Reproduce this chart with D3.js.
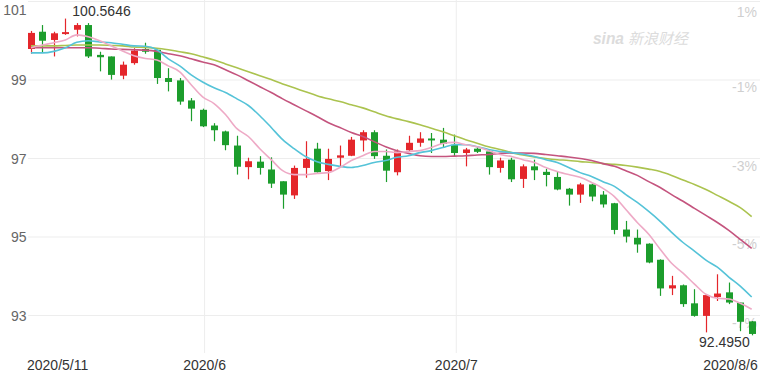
<!DOCTYPE html>
<html>
<head>
<meta charset="utf-8">
<script src="https://cdn.jsdelivr.net/npm/d3@7"></script>
<style>
  body { margin: 0; background: #fff; }
  svg { display: block; font-family: "Liberation Sans", Arial, sans-serif; }
</style>
</head>
<body>
<svg id="chart" width="760" height="372"></svg>
<script>
// trading days
const dates = [
  "2020-05-11","2020-05-12","2020-05-13","2020-05-14","2020-05-15",
  "2020-05-18","2020-05-19","2020-05-20","2020-05-21","2020-05-22",
  "2020-05-25","2020-05-26","2020-05-27","2020-05-28","2020-05-29",
  "2020-06-01","2020-06-02","2020-06-03","2020-06-04","2020-06-05",
  "2020-06-08","2020-06-09","2020-06-10","2020-06-11","2020-06-12",
  "2020-06-15","2020-06-16","2020-06-17","2020-06-18","2020-06-19",
  "2020-06-22","2020-06-23","2020-06-24","2020-06-25","2020-06-26",
  "2020-06-29","2020-06-30",
  "2020-07-01","2020-07-02","2020-07-03",
  "2020-07-06","2020-07-07","2020-07-08","2020-07-09","2020-07-10",
  "2020-07-13","2020-07-14","2020-07-15","2020-07-16","2020-07-17",
  "2020-07-20","2020-07-21","2020-07-22","2020-07-23","2020-07-24",
  "2020-07-27","2020-07-28","2020-07-29","2020-07-30","2020-07-31",
  "2020-08-03","2020-08-04","2020-08-05","2020-08-06"
];

const openVals = [99.79,100.23,100.02,100.17,100.28,100.40,99.64,99.60,99.11,99.43,
  99.79,99.77,99.05,98.99,98.48,98.24,97.84,97.69,97.33,96.78,
  96.92,96.72,96.42,96.06,96.76,97.25,96.68,97.02,97.07,97.46,
  97.67,97.07,96.65,97.21,97.40,97.51,97.48,97.35,97.14,97.25,
  97.18,96.76,96.97,96.48,96.80,96.66,96.53,96.23,96.08,96.34,
  96.08,95.86,95.19,94.98,94.83,94.42,93.69,93.77,93.31,92.99,
  93.47,93.59,93.33,92.85];
const closeVals = [100.20,100.00,100.19,100.22,100.40,99.60,99.58,99.13,99.39,99.75,
  99.72,99.05,98.95,98.45,98.27,97.82,97.72,97.34,96.79,96.93,
  96.76,96.36,96.08,96.76,96.99,96.65,96.99,97.08,97.48,97.67,
  97.06,96.69,97.18,97.40,97.51,97.46,97.37,97.14,97.23,97.17,
  96.78,96.95,96.47,96.80,96.70,96.58,96.21,96.08,96.34,96.03,
  95.83,95.18,95.01,94.81,94.35,93.69,93.77,93.29,92.99,93.52,
  93.56,93.33,92.84,92.53];
const highVals = [100.25,100.40,100.23,100.5646,100.45,100.45,99.72,99.60,99.47,99.81,
  99.95,99.77,99.30,99.05,98.54,98.27,97.90,97.71,97.58,97.02,
  97.06,97.03,96.42,96.82,97.44,97.40,97.25,97.33,97.55,97.72,
  97.72,97.23,97.23,97.58,97.67,97.65,97.78,97.61,97.27,97.31,
  97.23,97.02,97.02,96.85,96.97,96.74,96.68,96.25,96.38,96.36,
  96.17,95.87,95.41,95.19,94.84,94.43,94.01,93.79,93.67,93.54,
  94.05,93.84,93.33,92.86];
const lowVals = [99.67,99.69,99.60,100.15,100.11,99.56,99.22,99.01,99.02,99.39,
  99.67,98.90,98.71,98.37,97.95,97.80,97.44,97.21,96.59,96.47,
  96.59,96.25,95.72,95.97,96.51,96.64,96.45,96.80,97.06,97.18,
  96.99,96.40,96.57,97.17,97.30,97.14,97.27,97.04,96.80,97.14,
  96.59,96.64,96.40,96.25,96.45,96.29,96.19,95.80,95.87,95.91,
  95.75,95.07,94.86,94.60,94.33,93.50,93.52,93.22,92.97,92.57,
  93.37,93.29,92.60,92.495];

// moving averages
const ma5 = [99.82,99.89,99.95,100.02,100.15,100.10,100.00,99.87,99.74,99.62,
  99.55,99.51,99.36,99.21,98.88,98.57,98.40,98.12,97.76,97.56,
  97.25,96.97,96.69,96.59,96.59,96.62,96.64,96.77,96.95,97.07,
  97.18,97.18,97.15,97.18,97.20,97.28,97.38,97.41,97.35,97.30,
  97.20,97.10,97.05,96.97,96.90,96.77,96.67,96.59,96.52,96.39,
  96.24,96.03,95.70,95.37,95.07,94.69,94.33,94.08,93.80,93.54,
  93.44,93.42,93.31,93.16];
const ma10 = [99.69,99.69,99.73,99.82,99.96,100.00,99.97,99.95,99.91,99.87,
  99.86,99.77,99.54,99.36,99.13,98.95,98.80,98.68,98.52,98.35,
  98.09,97.79,97.48,97.25,97.05,96.92,96.85,96.80,96.77,96.82,
  96.90,96.95,97.03,97.07,97.15,97.20,97.28,97.35,97.35,97.30,
  97.23,97.18,97.15,97.11,97.05,96.97,96.90,96.77,96.64,96.54,
  96.41,96.29,96.08,95.88,95.65,95.40,95.12,94.86,94.64,94.41,
  94.23,93.98,93.75,93.47];
const ma20 = [99.82,99.82,99.82,99.82,99.82,99.82,99.81,99.79,99.78,99.77,
  99.76,99.73,99.67,99.62,99.54,99.46,99.39,99.26,99.13,98.98,
  98.83,98.68,98.52,98.37,98.22,98.07,97.91,97.79,97.66,97.56,
  97.43,97.30,97.20,97.13,97.07,97.05,97.05,97.06,97.07,97.09,
  97.10,97.13,97.14,97.14,97.13,97.10,97.07,97.04,97.00,96.95,
  96.87,96.80,96.69,96.57,96.41,96.26,96.08,95.91,95.73,95.55,
  95.37,95.17,94.94,94.71];
const ma30 = [99.87,99.87,99.87,99.88,99.89,99.89,99.89,99.88,99.87,99.84,
  99.83,99.81,99.77,99.72,99.67,99.59,99.51,99.41,99.31,99.21,
  99.11,99.01,98.90,98.80,98.70,98.60,98.52,98.45,98.37,98.29,
  98.19,98.09,98.01,97.94,97.86,97.77,97.68,97.58,97.48,97.39,
  97.30,97.23,97.15,97.09,97.04,97.00,96.97,96.95,96.92,96.90,
  96.87,96.85,96.82,96.78,96.73,96.67,96.57,96.45,96.34,96.21,
  96.06,95.91,95.75,95.52];

const yTicks = [101, 99, 97, 95, 93];
const pctLabels = ["1%", "-1%", "-3%", "-5%", "-7%"];
const xTickDates = ["2020-05-11", "2020-06-01", "2020-07-01", "2020-08-06"];
const xTickLabels = ["2020/5/11", "2020/6", "2020/7", "2020/8/6"];

const svg = d3.select("#chart");
const width = 760;

var x = d3.scaleBand().domain(dates).range([25.3, 757.4]);
var y = d3.scaleLinear().domain([93, 101]).range([315.5, 1.5]);
const cx = d => x(d) + x.bandwidth() / 2;

// grid
svg.append("g").selectAll("line")
  .data(yTicks).enter().append("line")
  .attr("x1", 28).attr("x2", width)
  .attr("y1", d => y(d)).attr("y2", d => y(d))
  .attr("stroke", "#ededed").attr("stroke-width", 1);

svg.append("g").selectAll("line")
  .data(xTickDates.slice(1, 3)).enter().append("line")
  .attr("x1", d => cx(d) + 2).attr("x2", d => cx(d) + 2)
  .attr("y1", 0).attr("y2", 353)
  .attr("stroke", "#ededed").attr("stroke-width", 1);

// left labels
svg.append("g").selectAll("text")
  .data(yTicks).enter().append("text")
  .attr("x", 26.5)
  .attr("y", d => Math.max(y(d) + 5, 15))
  .attr("text-anchor", "end")
  .attr("font-size", 14)
  .attr("fill", "#666")
  .text(d => d);

// right percent labels
svg.append("g").selectAll("text")
  .data(yTicks).enter().append("text")
  .attr("x", 757)
  .attr("y", d => Math.max(y(d) + 12, 17))
  .attr("text-anchor", "end")
  .attr("font-size", 14)
  .attr("fill", "#cfcfcf")
  .text((d, i) => pctLabels[i]);

// watermark
var wm = svg.append("g").attr("fill", "#dcdcdc");
wm.append("text").attr("x", 593).attr("y", 44)
  .attr("font-size", 17).attr("font-weight", "bold").attr("font-style", "italic")
  .attr("textLength", 31).attr("lengthAdjust", "spacingAndGlyphs")
  .text("sina");
wm.append("text").attr("x", 628).attr("y", 44)
  .attr("font-size", 15).attr("font-style", "italic")
  .attr("font-family", "Noto Sans CJK SC")
  .text("新浪财经");

// date labels
svg.append("g").selectAll("text")
  .data(xTickDates).enter().append("text")
  .attr("x", (d, i) => i === 0 ? cx(d) - 4 : i === xTickDates.length - 1 ? cx(d) + 6 : cx(d) + 2)
  .attr("y", 370)
  .attr("text-anchor", (d, i) => i === 0 ? "start" : i === xTickDates.length - 1 ? "end" : "middle")
  .attr("font-size", 14)
  .attr("fill", "#333")
  .text((d, i) => xTickLabels[i]);

// candles
const candles = dates.map((d, i) => ({date: d, o: openVals[i], c: closeVals[i], h: highVals[i], l: lowVals[i]}));
const bodyW = 7;
const col = d => d.c >= d.o ? "#e4262b" : "#1c9d2c";

var cg = svg.append("g");
cg.selectAll(".wick")
  .data(candles).enter().append("line")
  .attr("class", "wick")
  .attr("x1", d => Math.round(cx(d.date)) + 0.5).attr("x2", d => Math.round(cx(d.date)) + 0.5)
  .attr("y1", d => y(d.h)).attr("y2", d => y(d.l))
  .attr("stroke", col).attr("stroke-width", 1.2);

cg.selectAll(".body")
  .data(candles).enter().append("rect")
  .attr("class", "body")
  .attr("x", d => Math.round(cx(d.date)) + 0.5 - bodyW / 2)
  .attr("y", d => y(Math.max(d.o, d.c)))
  .attr("width", bodyW)
  .attr("height", d => Math.max(1.5, Math.abs(y(d.o) - y(d.c))))
  .attr("fill", col);

// moving average lines
const maSeries = [
  {vals: ma30, color: "#abc34f"},
  {vals: ma20, color: "#c4547e"},
  {vals: ma10, color: "#55c3d8"},
  {vals: ma5, color: "#eeaac6"}
];
var valueline = d3.line()
  .x((d, i) => cx(dates[i]))
  .y(d => y(d))
  .curve(d3.curveMonotoneX);

svg.append("g").selectAll("path")
  .data(maSeries).enter().append("path")
  .attr("d", s => valueline(s.vals))
  .attr("fill", "none")
  .attr("stroke", s => s.color)
  .attr("stroke-width", 1.6);

// high / low marks
const fmt = d3.format(".4f");
const hiIdx = d3.maxIndex(highVals);
const loIdx = d3.minIndex(lowVals);

svg.append("text")
  .attr("x", cx(dates[hiIdx]) + 7)
  .attr("y", y(highVals[hiIdx]) - 3)
  .attr("font-size", 14).attr("fill", "#333")
  .text(fmt(highVals[hiIdx]));

svg.append("text")
  .attr("x", cx(dates[loIdx]) - 2)
  .attr("y", y(lowVals[loIdx]) + 12)
  .attr("text-anchor", "end")
  .attr("font-size", 14).attr("fill", "#333")
  .text(fmt(lowVals[loIdx]));
</script>
</body>
</html>
